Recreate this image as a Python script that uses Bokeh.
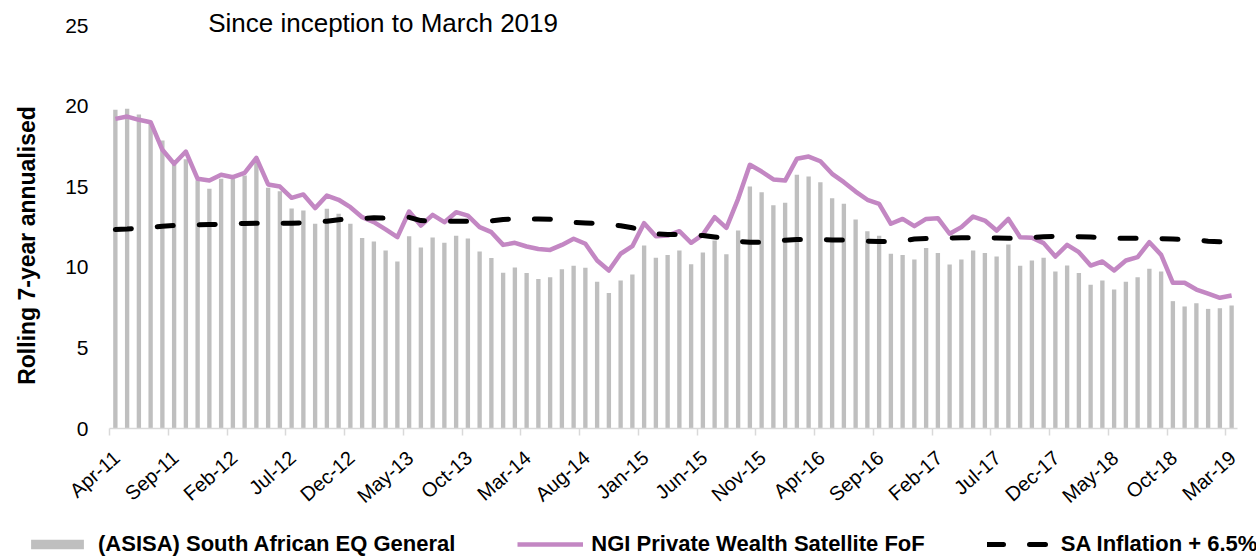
from bokeh.plotting import figure
from bokeh.models import (Range1d, FixedTicker, CustomJSTickFormatter, Legend,
                          LegendItem, Label, LabelSet, ColumnDataSource)
from bokeh.core.properties import value
from bokeh.embed import file_html
from bokeh.resources import INLINE

# ---- data -------------------------------------------------------------
tick_labels = ["Apr-11", "Sep-11", "Feb-12", "Jul-12", "Dec-12", "May-13",
               "Oct-13", "Mar-14", "Aug-14", "Jan-15", "Jun-15", "Nov-15",
               "Apr-16", "Sep-16", "Feb-17", "Jul-17", "Dec-17", "May-18",
               "Oct-18", "Mar-19"]

asisa = [19.77, 19.83, 19.48, 19.0, 17.87, 16.4, 16.7, 15.4, 14.87, 15.5,
         15.5, 15.7, 16.5, 14.93, 14.72, 13.65, 13.52, 12.7, 13.63, 13.32,
         12.7, 11.81, 11.6, 11.04, 10.36, 11.93, 11.23, 11.85, 11.52, 11.95,
         11.79, 10.98, 10.57, 9.66, 9.99, 9.64, 9.28, 9.39, 9.88, 10.09,
         9.97, 9.10, 8.40, 9.18, 9.55, 11.35, 10.59, 10.77, 11.04, 10.19,
         10.92, 11.66, 10.81, 12.28, 15.01, 14.66, 13.85, 14.0, 15.74, 15.63,
         15.28, 14.29, 13.94, 12.96, 12.24, 11.95, 10.84, 10.77, 10.48, 11.19,
         10.88, 10.17, 10.48, 11.04, 10.88, 10.67, 11.41, 10.09, 10.42, 10.59,
         9.74, 10.11, 9.64, 8.91, 9.18, 8.62, 9.10, 9.39, 9.91, 9.74,
         7.90, 7.57, 7.77, 7.42, 7.46, 7.63]

ngi = [19.21, 19.35, 19.15, 19.0, 17.29, 16.42, 17.18, 15.49, 15.38, 15.74,
       15.59, 15.86, 16.79, 15.14, 15.01, 14.31, 14.52, 13.67, 14.45, 14.19,
       13.73, 13.11, 12.8, 12.35, 11.87, 13.46, 12.59, 13.25, 12.8, 13.42,
       13.21, 12.49, 12.18, 11.39, 11.52, 11.29, 11.14, 11.08, 11.39, 11.77,
       11.46, 10.42, 9.80, 10.84, 11.31, 12.74, 11.93, 11.97, 12.24, 11.52,
       12.03, 13.11, 12.45, 14.25, 16.36, 15.94, 15.45, 15.38, 16.73, 16.87,
       16.58, 15.8, 15.28, 14.70, 14.19, 13.94, 12.7, 13.0, 12.55, 13.0,
       13.05, 12.08, 12.49, 13.15, 12.9, 12.28, 13.0, 11.87, 11.83, 11.5,
       10.67, 11.39, 10.94, 10.11, 10.36, 9.80, 10.42, 10.63, 11.56, 10.77,
       9.04, 9.04, 8.62, 8.36, 8.11, 8.25]

inflation = [12.34, 12.38, 12.43, 12.48, 12.55, 12.59, 12.61, 12.63, 12.65, 12.67,
             12.70, 12.72, 12.74, 12.74, 12.74, 12.74, 12.76, 12.80, 12.86, 12.95,
             13.0, 13.03, 13.07, 13.05, 13.08, 13.1, 12.9, 12.85, 12.86, 12.86,
             12.86, 12.86, 12.88, 12.97, 13.0, 13.0, 13.0, 12.98, 12.9, 12.78,
             12.75, 12.72, 12.65, 12.58, 12.45, 12.28, 12.08, 12.03, 12.03, 12.0,
             11.97, 11.88, 11.79, 11.6, 11.56, 11.56, 11.6, 11.68, 11.72, 11.72,
             11.72, 11.7, 11.7, 11.68, 11.62, 11.6, 11.6, 11.65, 11.75, 11.78,
             11.8, 11.82, 11.83, 11.83, 11.83, 11.82, 11.8, 11.8, 11.85, 11.9,
             11.92, 11.91, 11.9, 11.88, 11.82, 11.8, 11.8, 11.8, 11.8, 11.78,
             11.75, 11.72, 11.7, 11.62, 11.58, 11.62]

idx = list(range(len(asisa)))
src = ColumnDataSource(dict(x=idx, asisa=asisa, ngi=ngi, infl=inflation))

FONT = "Liberation Sans"

# ---- layout (pixels) --------------------------------------------------
W, H = 1256, 558
PLOT_LEFT, PLOT_RIGHT = 109, 1237      # pixel extent of the category axis
PLOT_TOP, PLOT_BOTTOM = 25, 428        # pixel of y=25 and y=0
n = len(idx)
ppx = (PLOT_RIGHT - PLOT_LEFT) / n
ppy = (PLOT_BOTTOM - PLOT_TOP) / 25.0
x0 = -0.5 - PLOT_LEFT / ppx
x1 = -0.5 + (W - PLOT_LEFT) / ppx
y0 = -(H - PLOT_BOTTOM) / ppy
y1 = PLOT_BOTTOM / ppy

p = figure(width=W, height=H, output_backend="svg", toolbar_location=None,
           x_range=Range1d(x0, x1), y_range=Range1d(y0, y1),
           min_border_left=0, min_border_right=0, min_border_top=0,
           min_border_bottom=0)
p.outline_line_color = None
p.background_fill_color = "white"
p.border_fill_color = "white"
p.xgrid.visible = False
p.ygrid.visible = False

r_bar = p.vbar(x="x", top="asisa", width=0.37, source=src,
               fill_color="#bfbfbf", line_color=None)
r_ngi = p.line(x="x", y="ngi", source=src, line_color="#c387c3", line_width=4.5,
               line_join="round")
r_inf = p.line(x="x", y="infl", source=src, line_color="black", line_width=5,
               line_dash="16 26", line_cap="round")

# x axis: tick marks at category boundaries every 5 months (labels drawn below)
xt = [i * 5 - 0.5 for i in range(len(tick_labels))]
ax1 = p.xaxis[0]
ax1.fixed_location = 0
ax1.bounds = (-0.5, n - 0.5)
ax1.ticker = FixedTicker(ticks=xt)
ax1.formatter = CustomJSTickFormatter(code="return '';")
ax1.axis_line_color = "#d9d9d9"
ax1.axis_line_width = 1.5
ax1.major_tick_line_color = "#d9d9d9"
ax1.major_tick_line_width = 1.5
ax1.major_tick_out = 7
ax1.major_tick_in = 0
ax1.minor_tick_line_color = None
ax1.major_label_text_font_size = "0px"
ax1.major_label_standoff = 0

# rotated category labels, right end at the category centre
lab_src = ColumnDataSource(dict(x=[i * 5 for i in range(len(tick_labels))],
                                y=[0] * len(tick_labels), text=tick_labels))
p.add_layout(LabelSet(x="x", y="y", text="text", source=lab_src,
                      x_offset=-6, y_offset=-18, angle=0.72, text_align="right",
                      text_baseline="top", text_font=value(FONT),
                      text_font_size=value("20px"), text_color="black"))

# y axis
ya = p.yaxis[0]
ya.fixed_location = -0.5
ya.bounds = (-2.3, 25)
ya.ticker = FixedTicker(ticks=[0, 5, 10, 15, 20, 25])
ya.axis_line_color = None
ya.major_tick_line_color = None
ya.minor_tick_line_color = None
ya.major_tick_out = 0
ya.major_tick_in = 0
ya.major_label_standoff = 21
ya.major_label_text_font = FONT
ya.major_label_text_font_size = "21px"
ya.major_label_text_color = "black"
ya.axis_label = "Rolling 7-year annualised"
ya.axis_label_text_font = FONT
ya.axis_label_text_font_style = "bold"
ya.axis_label_text_font_size = "23px"
ya.axis_label_text_color = "black"
ya.axis_label_standoff = 22

# subtitle
p.add_layout(Label(x=7.9, y=25.15, text="Since inception to March 2019",
                   text_font=FONT, text_font_size="26px", text_color="black",
                   text_baseline="alphabetic", text_align="left"))

legend = Legend(items=[
    LegendItem(label="(ASISA) South African EQ General", renderers=[r_bar]),
    LegendItem(label="NGI Private Wealth Satellite FoF", renderers=[r_ngi]),
    LegendItem(label="SA Inflation + 6.5%", renderers=[r_inf]),
], orientation="horizontal", location=(24, 1), padding=0, margin=0,
    spacing=62, glyph_width=66, glyph_height=12, label_standoff=8,
    label_height=24,
    label_text_font=FONT, label_text_font_style="bold",
    label_text_font_size="22px", label_text_color="black",
    background_fill_alpha=0, border_line_color=None)
p.add_layout(legend, "center")

open("out.html", "w").write(file_html(p, INLINE))
